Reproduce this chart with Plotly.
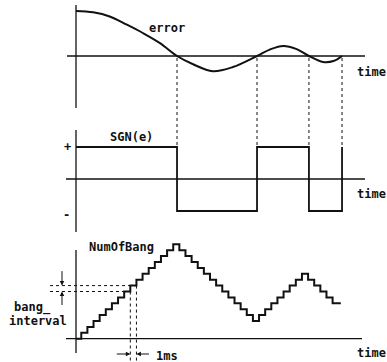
import plotly.graph_objects as go

W, H = 387, 362

# ---------------- data (time in ms) ----------------
error_t = [0, 2.8, 5.5, 8.3, 10.9, 13.7, 16.48, 19.1, 22.3, 25.6, 29.53, 31.6, 33.8, 36.0, 38.0, 40.3, 42.0, 43.4]
error_v = [0.98, 0.95, 0.86, 0.68, 0.50, 0.28, 0.0, -0.18, -0.33, -0.24, 0.0, 0.14, 0.22, 0.15, 0.0, -0.13, -0.11, 0.0]

sign_switch_t = [0, 16.48, 29.53, 38.0, 43.4]
sign_level = [1, -1, 1, -1, 1]

bang_first_ms = 0.86
bang_period_ms = 1.0
bang_counts = [0, 1, 2, 3, 4, 5, 6, 7, 8, 9, 10, 11, 12, 13, 14, 15, 16,
               15, 14, 13, 12, 11, 10, 9, 8, 7, 6, 5, 4, 3,
               4, 5, 6, 7, 8, 9, 10, 11,
               10, 9, 8, 7, 6]
bang_end_ms = 43.2
marked_step = 8  # bang_interval illustrated between counts 8 and 9

# ---------------- layout geometry (pixels) ----------------
X0_PX, PX_PER_MS = 76, 6.13
panels = {
    "y":  dict(top=0,   bot=118, zero=56,    ppu=46),
    "y2": dict(top=120, bot=238, zero=179,   ppu=32),
    "y3": dict(top=240, bot=362, zero=338.7, ppu=5.9),
}

def px_to_ms(px):
    return (px - X0_PX) / PX_PER_MS

def val_px(ax, v):
    p = panels[ax]
    return p["zero"] - v * p["ppu"]

def px_val(ax, px):
    p = panels[ax]
    return (p["zero"] - px) / p["ppu"]

def paper_y(px):
    return 1 - px / H

INK = "#111111"
FONT = dict(family="DejaVu Sans Mono, Liberation Mono, monospace", size=12, color=INK, weight="bold")

fig = go.Figure()

# error curve
fig.add_trace(go.Scatter(x=error_t, y=error_v, mode="lines", xaxis="x", yaxis="y",
                         line=dict(color=INK, width=2, shape="spline", smoothing=1.0),
                         hoverinfo="skip"))

# SGN(e) square wave
fig.add_trace(go.Scatter(x=sign_switch_t, y=sign_level, mode="lines", xaxis="x", yaxis="y2",
                         line=dict(color=INK, width=1.8, shape="hv"), hoverinfo="skip"))

# NumOfBang staircase
bang_t = [0] + [bang_first_ms + i * bang_period_ms for i in range(len(bang_counts) - 1)] + [bang_end_ms]
bang_y = bang_counts + [bang_counts[-1]]
fig.add_trace(go.Scatter(x=bang_t, y=bang_y, mode="lines", xaxis="x", yaxis="y3",
                         line=dict(color=INK, width=2, shape="hv"), hoverinfo="skip"))

shapes = []
axis_line = dict(color=INK, width=1.3)
# axes of each panel: (vertical extent px, horizontal extent px)
axes_geom = {
    "y":  dict(v=(5, 108),   h=(67, 365)),
    "y2": dict(v=(130, 232), h=(66, 365)),
    "y3": dict(v=(250, 353), h=(66, 362)),
}
for ax, g in axes_geom.items():
    shapes.append(dict(type="line", xref="x", yref=ax, x0=0, x1=0,
                       y0=px_val(ax, g["v"][0]), y1=px_val(ax, g["v"][1]), line=axis_line))
    shapes.append(dict(type="line", xref="x", yref=ax, x0=px_to_ms(g["h"][0]), x1=px_to_ms(g["h"][1]),
                       y0=0, y1=0, line=axis_line))

dash = dict(color=INK, width=1, dash="3px,3px")
# vertical dashed connectors at sign switches
for t in sign_switch_t[1:]:
    shapes.append(dict(type="line", xref="x", yref="paper", x0=t, x1=t,
                       y0=paper_y(val_px("y", 0) + 2), y1=paper_y(val_px("y2", 1)), line=dash))

# bang_interval helper lines
for k in (marked_step, marked_step + 1):
    t_rise = bang_first_ms + k * bang_period_ms
    lvl_px = val_px("y3", bang_counts[k])
    shapes.append(dict(type="line", xref="x", yref="paper", x0=px_to_ms(50), x1=t_rise,
                       y0=paper_y(lvl_px), y1=paper_y(lvl_px), line=dash))
    shapes.append(dict(type="line", xref="x", yref="paper", x0=t_rise, x1=t_rise,
                       y0=paper_y(lvl_px), y1=0, line=dash))

annotations = []
def label(text, xpx, ypx, **kw):
    annotations.append(dict(text=text, x=xpx / W, y=paper_y(ypx), xref="paper", yref="paper",
                            xanchor="center", yanchor="middle", showarrow=False, font=FONT,
                            borderpad=0, **kw))

label("error", 167, 28)
label("time", 371, 72)
label("time", 371, 194)
label("time", 371, 353)
label("SGN(e)", 131, 137)
label("+", 67, 147)
label("-", 66, 215)
label("NumOfBang", 121, 247)
label("bang_", 32, 307)
label("interval", 38, 321)
label("1ms", 167, 356)

def arrow(tip_x, tip_y, dx, dy):
    annotations.append(dict(text="", x=tip_x / W, y=paper_y(tip_y), xref="paper", yref="paper",
                            ax=dx, ay=dy, axref="pixel", ayref="pixel", showarrow=True,
                            arrowhead=2, arrowsize=0.9, arrowwidth=1, arrowcolor=INK))

lvl_lo = val_px("y3", bang_counts[marked_step])
lvl_hi = val_px("y3", bang_counts[marked_step + 1])
arrow(62, lvl_hi, 0, -16)
arrow(62, lvl_lo, 0, 15)
t_lo_px = X0_PX + (bang_first_ms + marked_step * bang_period_ms) * PX_PER_MS
t_hi_px = t_lo_px + bang_period_ms * PX_PER_MS
arrow(t_lo_px, 354, -15, 0)
arrow(t_hi_px, 354, 14, 0)

ax_common = dict(visible=False, fixedrange=True)
layout = dict(
    width=W, height=H, margin=dict(l=0, r=0, t=0, b=0),
    paper_bgcolor="white", plot_bgcolor="white", showlegend=False,
    xaxis=dict(range=[px_to_ms(0), px_to_ms(W)], domain=[0, 1], anchor="y", **ax_common),
    shapes=shapes, annotations=annotations,
)
for ax, p in panels.items():
    key = "yaxis" if ax == "y" else "yaxis" + ax[1:]
    layout[key] = dict(range=[px_val(ax, p["bot"]), px_val(ax, p["top"])],
                       domain=[paper_y(p["bot"]), paper_y(p["top"])], anchor="x", **ax_common)
fig.update_layout(**layout)

fig.write_html("out.html", config={"displayModeBar": False, "staticPlot": True},
               post_script="document.body.style.margin='0';document.body.style.overflow='hidden';")
